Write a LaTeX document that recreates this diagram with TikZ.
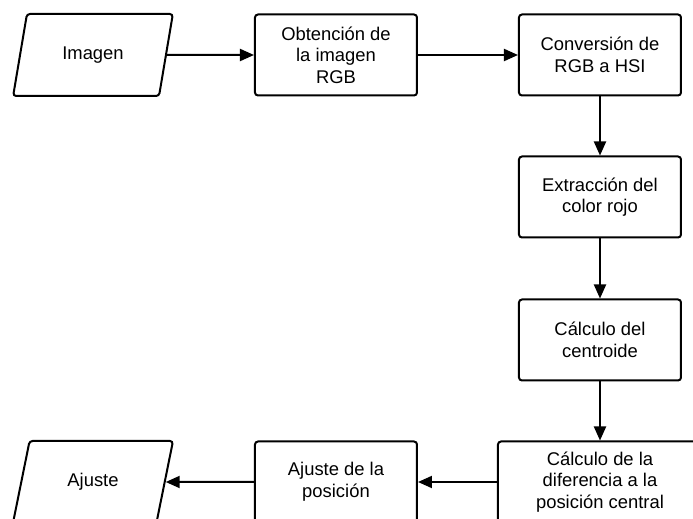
\documentclass[tikz,border=0pt]{standalone}
\usepackage{fontspec}
\setmainfont{Liberation Sans}
\usetikzlibrary{shapes.geometric,arrows.meta}
\begin{document}
\begin{tikzpicture}[x=0.5pt,y=-0.5pt,
		proc/.style={draw,line width=1pt,rounded corners=1.5pt,minimum width=81pt,minimum height=40.5pt,align=center,font=\fontsize{9.2}{10.8}\selectfont},
		io/.style={draw,line width=1pt,rounded corners=1.5pt,trapezium,trapezium left angle=68.7,trapezium right angle=111.3,trapezium stretches=true,minimum width=80pt,minimum height=41pt,inner sep=0pt,font=\fontsize{9.2}{10.8}\selectfont},
		flow/.style={line width=1pt,-{Triangle[length=7pt,width=6pt]}}]
			\useasboundingbox (0,0) rectangle (693,519);
			\node [io] (imagen) at (93,55) {Imagen};
			\node [proc] (obtencion) at (336,55) {Obtención de\\la imagen\\RGB};
			\node [proc] (conversion) at (600,55) {Conversión de\\RGB a HSI};
			\node [proc] (extraccion) at (600,197) {Extracción del\\color rojo};
			\node [proc] (centroide) at (600,340) {Cálculo del\\centroide};
			\node [proc,minimum width=102pt] (diferencia) at (600,482) {Cálculo de la\\diferencia a la\\posición central};
			\node [proc] (posicion) at (336,482) {Ajuste de la\\posición};
			\node [io] (ajuste) at (93,482) {Ajuste};
			\draw [flow] (imagen)--(obtencion);
			\draw [flow] (obtencion)--(conversion);
			\draw [flow] (conversion)--(extraccion);
			\draw [flow] (extraccion)--(centroide);
			\draw [flow] (centroide)--(diferencia);
			\draw [flow] (diferencia)--(posicion);
			\draw [flow] (posicion)--(ajuste);
		\end{tikzpicture}
\end{document}
